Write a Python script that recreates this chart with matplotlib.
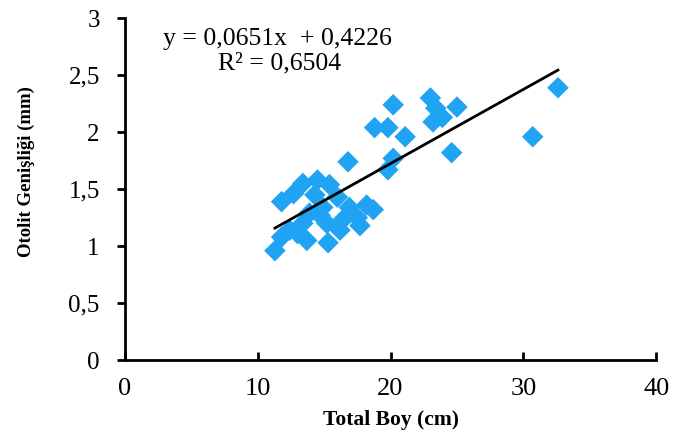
import numpy as np
import matplotlib.pyplot as plt

# Total length (cm) vs otolith width (mm)
total_boy = [11.3, 11.8, 12.4, 13.0, 13.7, 15.3, 11.8, 12.7, 13.4, 14.5,
             15.4, 16.0, 16.9, 18.2, 18.7, 14.9, 13.9, 13.4, 15.2, 16.4,
             17.5, 14.3, 16.2, 17.7, 14.7, 16.8, 18.8, 19.8, 21.1, 20.2,
             23.0, 23.4, 23.9, 25.0, 23.2, 24.6, 20.2, 19.8, 30.7, 32.6]
otolit_gen = [0.96, 1.08, 1.14, 1.11, 1.05, 1.03, 1.39, 1.46, 1.55, 1.58,
              1.54, 1.43, 1.34, 1.36, 1.32, 1.34, 1.29, 1.20, 1.20, 1.23,
              1.25, 1.45, 1.14, 1.18, 1.27, 1.74, 2.04, 2.04, 1.96, 2.24,
              2.30, 2.21, 2.13, 2.22, 2.09, 1.82, 1.77, 1.67, 1.96, 2.39]

slope = 0.0651
intercept = 0.4226
r2 = 0.6504

x_ticks = [0, 10, 20, 30, 40]
y_ticks = [0, 0.5, 1, 1.5, 2, 2.5, 3]
y_tick_labels = ['0', '0,5', '1', '1,5', '2', '2,5', '3']

plt.rcParams['font.family'] = ['Liberation Serif', 'DejaVu Serif']

fig = plt.figure(figsize=(6.78, 4.44), dpi=100)
ax = fig.add_axes([0.184, 0.189, 0.784, 0.770])

ax.scatter(total_boy, otolit_gen, marker='D', s=120, color='#1FA3F2',
           edgecolors='none', zorder=2)

# trend line over the data range
xl = np.array([min(total_boy), max(total_boy)])
ax.plot(xl, slope * xl + intercept, color='black', lw=2, zorder=3)

ax.text(0.072, 0.94, 'y = 0,0651x  + 0,4226', transform=ax.transAxes,
        fontsize=18.5, va='center', ha='left')
ax.text(0.176, 0.867, 'R² = 0,6504', transform=ax.transAxes,
        fontsize=18.5, va='center', ha='left')

ax.set_xlim(0, 40)
ax.set_ylim(0, 3)
ax.set_xticks(x_ticks)
ax.set_yticks(y_ticks)
ax.set_yticklabels(y_tick_labels)
ax.tick_params(axis='x', direction='in', length=6, width=2, labelsize=19, pad=13)
ax.tick_params(axis='y', direction='out', length=6, width=2, labelsize=18, pad=12)

for s in ['top', 'right']:
    ax.spines[s].set_visible(False)
for s in ['left', 'bottom']:
    ax.spines[s].set_linewidth(2)

ax.set_xlabel('Total Boy (cm)', fontsize=15.5, fontweight='bold')
ax.xaxis.set_label_coords(0.5, -0.175)
ax.set_ylabel('Otolit Genişliği (mm)', fontsize=13.5, fontweight='bold')
ax.yaxis.set_label_coords(-0.186, 0.55)
ax.yaxis.label.set_va('center')
ax.xaxis.label.set_va('center')

plt.savefig('out.png', dpi=100)
